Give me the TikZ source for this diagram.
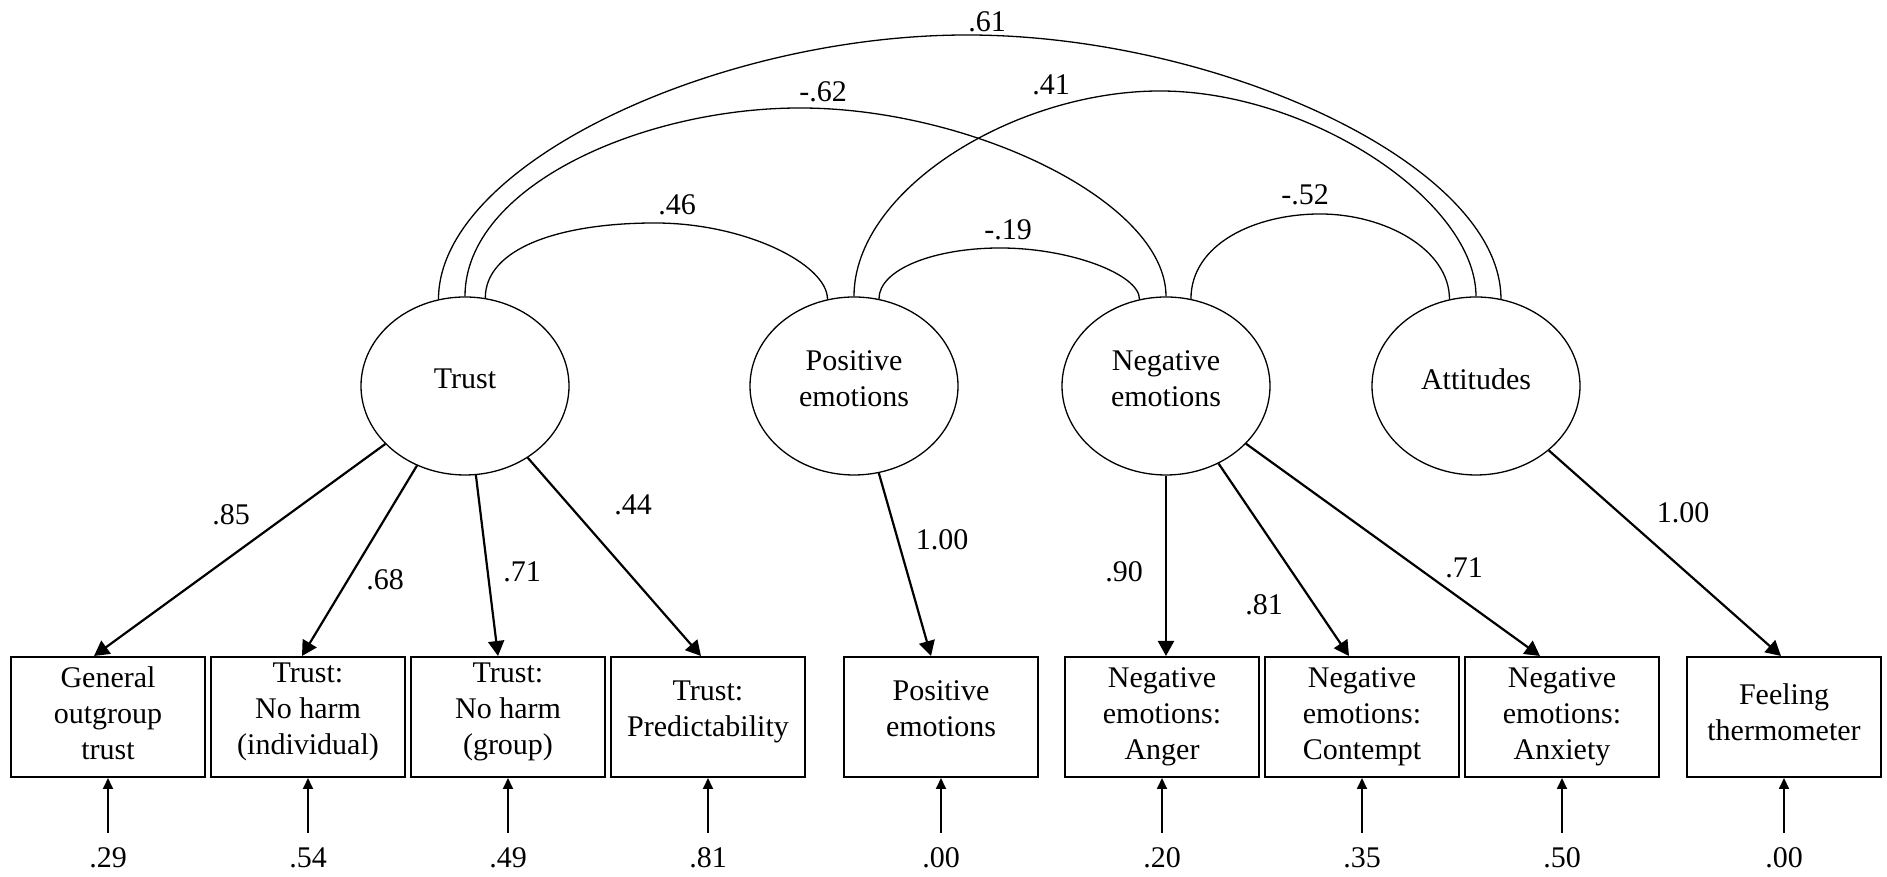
\documentclass[tikz,border=0pt]{standalone}
\usepackage{fontspec}
\setmainfont{Liberation Serif}
\usepackage{tikz}
\usetikzlibrary{shapes.geometric, arrows.meta, positioning}
\tikzstyle{latent} = [ellipse, draw, minimum width=104pt, minimum height=89pt, inner sep=0pt,
  align=center, text depth=7pt, line width=0.65pt, font=\fontsize{15}{18}\selectfont]
\tikzstyle{indbox} = [rectangle, draw, minimum width=97pt, minimum height=60pt, inner sep=0pt,
  align=center, text depth=8pt, line width=1pt, font=\fontsize{15}{18}\selectfont]
\tikzstyle{val} = [inner sep=0pt, font=\fontsize{15}{18}\selectfont]
\tikzstyle{arrow} = [line width=1.1pt, -{Triangle[length=7.5pt,width=8pt]}]
\tikzstyle{errarrow} = [line width=0.9pt, -{Triangle[length=5.5pt,width=5pt]}]
\tikzstyle{cov} = [line width=0.65pt]

\begin{document}
\begin{tikzpicture}[x=0.5pt, y=0.5pt]
  \useasboundingbox (0,0) rectangle (1887,877);

  % latent variables
  \node (trust) [latent] at (465,491) {Trust};
  \node (pos)   [latent] at (854,491) {Positive\\emotions};
  \node (neg)   [latent] at (1166,491) {Negative\\emotions};
  \node (att)   [latent] at (1476,491) {Attitudes};

  % indicators
  \node (g1) [indbox, text depth=4pt] at (108,160) {General\\outgroup\\trust};
  \node (g2) [indbox, right=2pt of g1] {Trust:\\No harm\\(individual)};
  \node (g3) [indbox, right=2pt of g2] {Trust:\\No harm\\(group)};
  \node (g4) [indbox, right=2pt of g3] {Trust:\\Predictability};
  \node (g5) [indbox, right=18.5pt of g4] {Positive\\emotions};
  \node (g6) [indbox, text depth=3pt, right=12.5pt of g5] {Negative\\emotions:\\Anger};
  \node (g7) [indbox, text depth=3pt, right=2pt of g6] {Negative\\emotions:\\Contempt};
  \node (g8) [indbox, text depth=3pt, right=2pt of g7] {Negative\\emotions:\\Anxiety};
  \node (g9) [indbox, text depth=5pt, right=13pt of g8] {Feeling\\thermometer};

  % residuals
  \node (e1) [val, below=34.5pt of g1] {.29};
  \node (e2) [val, below=34.5pt of g2] {.54};
  \node (e3) [val, below=34.5pt of g3] {.49};
  \node (e4) [val, below=34.5pt of g4] {.81};
  \node (e5) [val, below=34.5pt of g5] {.00};
  \node (e6) [val, below=34.5pt of g6] {.20};
  \node (e7) [val, below=34.5pt of g7] {.35};
  \node (e8) [val, below=34.5pt of g8] {.50};
  \node (e9) [val, below=34.5pt of g9] {.00};

  \draw[errarrow] ([yshift=7pt]e1.north) -- (g1.south);
  \draw[errarrow] ([yshift=7pt]e2.north) -- (g2.south);
  \draw[errarrow] ([yshift=7pt]e3.north) -- (g3.south);
  \draw[errarrow] ([yshift=7pt]e4.north) -- (g4.south);
  \draw[errarrow] ([yshift=7pt]e5.north) -- (g5.south);
  \draw[errarrow] ([yshift=7pt]e6.north) -- (g6.south);
  \draw[errarrow] ([yshift=7pt]e7.north) -- (g7.south);
  \draw[errarrow] ([yshift=7pt]e8.north) -- (g8.south);
  \draw[errarrow] ([yshift=7pt]e9.north) -- (g9.south);

  % loadings
  \draw[arrow] (trust) -- ([xshift=-7pt]g1.north);
  \draw[arrow] (trust) -- ([xshift=-3pt]g2.north);
  \draw[arrow] (trust) -- ([xshift=-5pt]g3.north);
  \draw[arrow] (trust) -- ([xshift=-3.5pt]g4.north);
  \draw[arrow] (pos) -- ([xshift=-5pt]g5.north);
  \draw[arrow] (neg) -- ([xshift=2pt]g6.north);
  \draw[arrow] (neg) -- ([xshift=-6.5pt]g7.north);
  \draw[arrow] (neg) -- ([xshift=-11pt]g8.north);
  \draw[arrow] (att) -- ([xshift=-1.5pt]g9.north);

  \node (l1) [val] at (231,362) {.85};
  \node (l2) [val] at (385,297) {.68};
  \node (l3) [val] at (522,305) {.71};
  \node (l4) [val] at (633,372) {.44};
  \node (l5) [val] at (942,337) {1.00};
  \node (l6) [val] at (1124,305) {.90};
  \node (l7) [val] at (1264,272) {.81};
  \node (l8) [val] at (1464,309) {.71};
  \node (l9) [val] at (1683,364) {1.00};

  % covariances
  \draw[cov] (trust.107) .. controls +(0,135) and +(-250,0) .. (967,842)
    .. controls +(250,0) and +(0,135) .. (att.74);
  \draw[cov] (trust.north) .. controls +(0,110) and +(-158,0) .. (800,769)
    .. controls +(170,0) and +(0,95) .. (neg.north);
  \draw[cov] (trust.77) .. controls +(0,50) and +(-95,0) .. (655,654)
    .. controls +(90,0) and +(0,35) .. (pos.107);
  \draw[cov] (pos.north) .. controls +(0,107) and +(-145,0) .. (1160,786)
    .. controls +(150,0) and +(0,95) .. (att.north);
  \draw[cov] (pos.74) .. controls +(0,30) and +(-65,0) .. (1000,629)
    .. controls +(70,0) and +(0,25) .. (neg.107);
  \draw[cov] (neg.74) .. controls +(0,55) and +(-65,0) .. (1320,663)
    .. controls +(65,0) and +(0,50) .. (att.107);

  \node (c1) [val] at (987,855) {.61};
  \node (c2) [val] at (823,785) {-.62};
  \node (c3) [val] at (1051,792) {.41};
  \node (c4) [val] at (677,672) {.46};
  \node (c5) [val] at (1008,647) {-.19};
  \node (c6) [val] at (1305,682) {-.52};
\end{tikzpicture}
\end{document}
